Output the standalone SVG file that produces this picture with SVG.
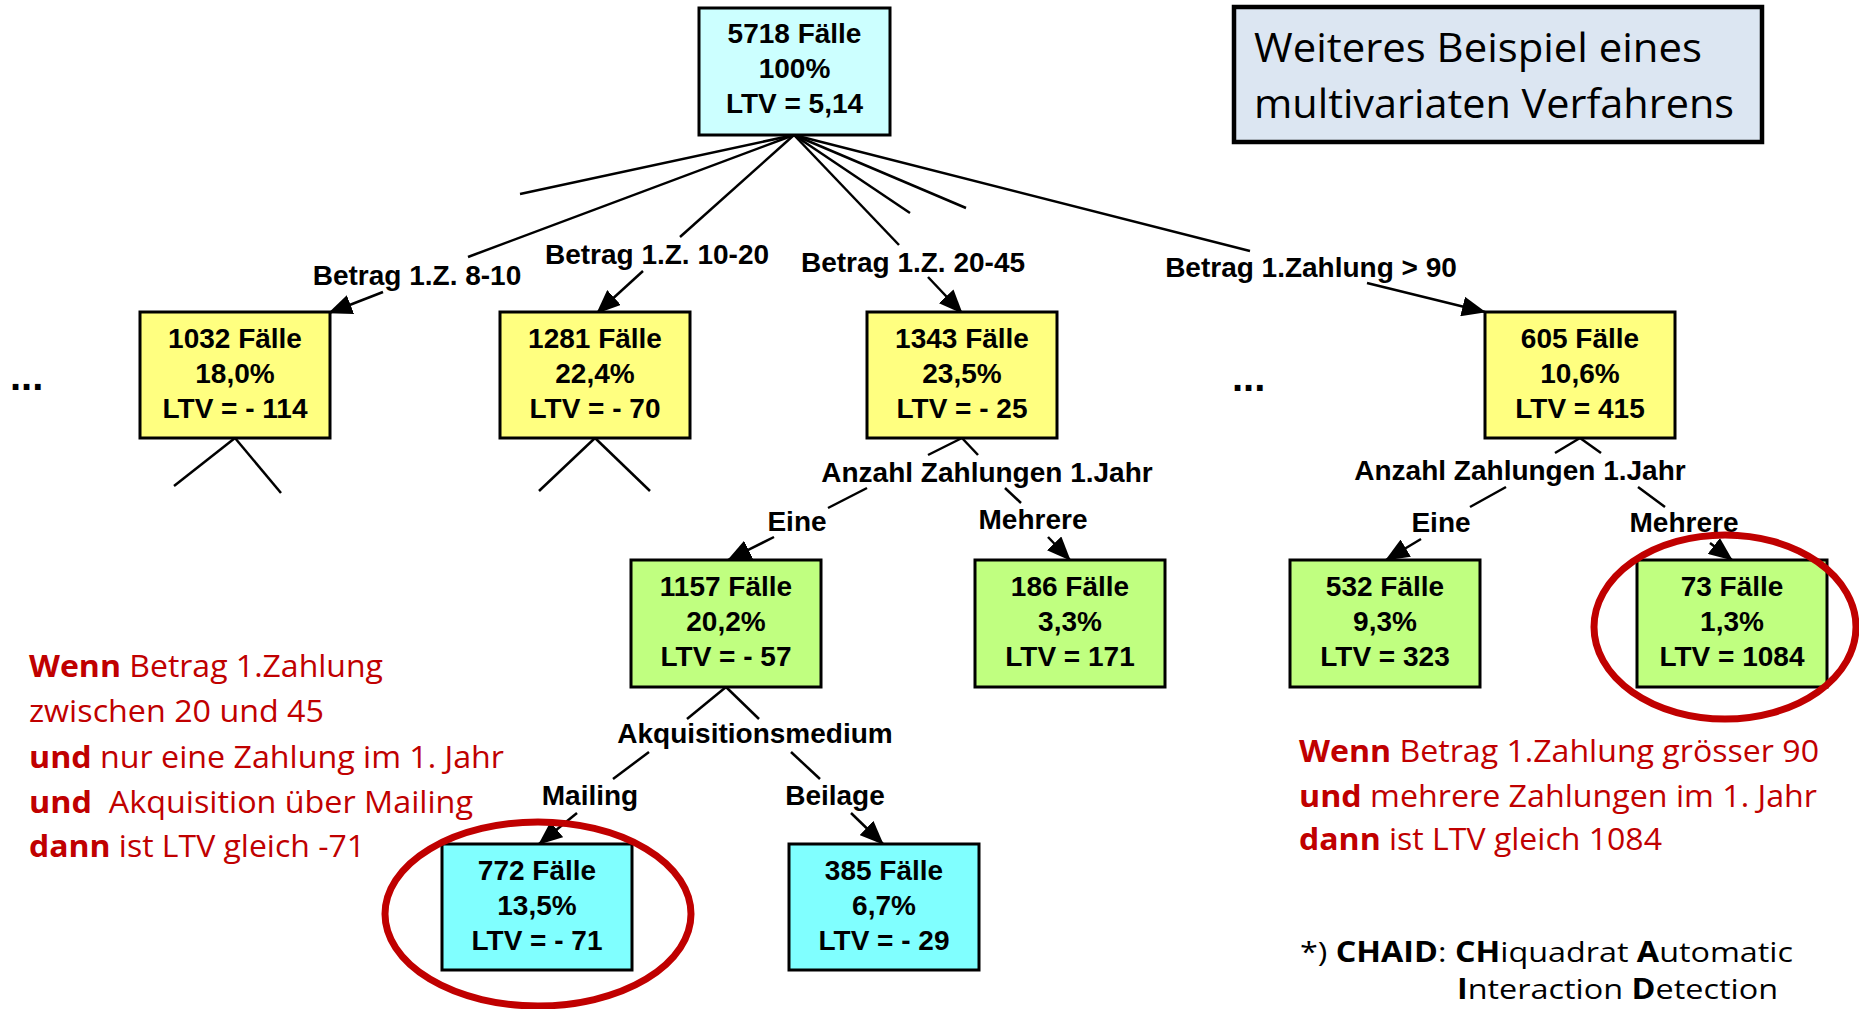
<svg xmlns="http://www.w3.org/2000/svg" width="1859" height="1009" viewBox="0 0 1859 1009">
<defs>
<style>
.box{stroke:#000;stroke-width:3}
.nt{font-family:"Liberation Sans",Arial,sans-serif;font-weight:bold;font-size:28px;text-anchor:middle;fill:#000}
.lbl{font-family:"Liberation Sans",Arial,sans-serif;font-weight:bold;font-size:28px;text-anchor:middle;fill:#000}
.dots{font-family:"Liberation Sans",Arial,sans-serif;font-weight:bold;font-size:40px;fill:#000}
.ln{stroke:#000;stroke-width:2.5;fill:none}
.ar{stroke:#000;stroke-width:2.5;fill:none;marker-end:url(#ah)}
.red{font-family:"Open Sans","Liberation Sans",sans-serif;font-size:31px;fill:#c00000}
.blk{font-family:"Open Sans","Liberation Sans",sans-serif;font-size:28px;fill:#000}
.b{font-weight:bold}
.ring{fill:none;stroke:#c00000;stroke-width:7}
</style>
<marker id="ah" markerUnits="userSpaceOnUse" markerWidth="24" markerHeight="20" refX="23" refY="10" orient="auto">
<path d="M0,0 L24,10 L0,20 z" fill="#000"/>
</marker>
</defs>
<rect width="1859" height="1009" fill="#fff"/>

<g id="title">
<rect x="1234" y="7" width="528" height="135" fill="#dce6f2" stroke="#000" stroke-width="4.5"/>
<text x="1254" y="62" font-family="'Open Sans','Liberation Sans',sans-serif" font-size="41" fill="#000" textLength="448" lengthAdjust="spacingAndGlyphs">Weiteres Beispiel eines</text>
<text x="1254" y="118" font-family="'Open Sans','Liberation Sans',sans-serif" font-size="41" fill="#000" textLength="480" lengthAdjust="spacingAndGlyphs">multivariaten Verfahrens</text>
</g>

<g id="connectors">
<line class="ln" x1="794" y1="135" x2="520" y2="194"/>
<line class="ln" x1="794" y1="135" x2="468" y2="257"/>
<line class="ln" x1="794" y1="135" x2="680" y2="237"/>
<line class="ln" x1="794" y1="135" x2="899" y2="245"/>
<line class="ln" x1="794" y1="135" x2="910" y2="213"/>
<line class="ln" x1="794" y1="135" x2="966" y2="208"/>
<line class="ln" x1="794" y1="135" x2="1250" y2="251"/>
<line class="ar" x1="383" y1="292" x2="329" y2="313"/>
<line class="ar" x1="643" y1="271" x2="597" y2="313"/>
<line class="ar" x1="928" y1="277" x2="962" y2="313"/>
<line class="ar" x1="1367" y1="283" x2="1485" y2="312"/>
<line class="ln" x1="235" y1="438" x2="174" y2="486"/>
<line class="ln" x1="235" y1="438" x2="281" y2="493"/>
<line class="ln" x1="595" y1="438" x2="539" y2="491"/>
<line class="ln" x1="595" y1="438" x2="650" y2="491"/>
<line class="ln" x1="962" y1="438" x2="928" y2="455"/>
<line class="ln" x1="962" y1="438" x2="978" y2="455"/>
<line class="ln" x1="867" y1="488" x2="828" y2="508"/>
<line class="ln" x1="1005" y1="488" x2="1021" y2="503"/>
<line class="ar" x1="774" y1="537" x2="728" y2="560"/>
<line class="ar" x1="1048" y1="537" x2="1070" y2="560"/>
<line class="ln" x1="1580" y1="438" x2="1555" y2="453"/>
<line class="ln" x1="1580" y1="438" x2="1601" y2="453"/>
<line class="ln" x1="1506" y1="487" x2="1470" y2="507"/>
<line class="ln" x1="1638" y1="487" x2="1665" y2="507"/>
<line class="ar" x1="1421" y1="539" x2="1386" y2="560"/>
<line class="ar" x1="1710" y1="543" x2="1732" y2="560"/>
<line class="ln" x1="726" y1="687" x2="687" y2="719"/>
<line class="ln" x1="726" y1="687" x2="759" y2="719"/>
<line class="ln" x1="649" y1="752" x2="613" y2="779"/>
<line class="ln" x1="791" y1="752" x2="820" y2="779"/>
<line class="ar" x1="577" y1="813" x2="539" y2="844"/>
<line class="ar" x1="851" y1="813" x2="883" y2="844"/>
<text class="lbl" x="417" y="285">Betrag 1.Z. 8-10</text>
<text class="lbl" x="657" y="264">Betrag 1.Z. 10-20</text>
<text class="lbl" x="913" y="272">Betrag 1.Z. 20-45</text>
<text class="lbl" x="1311" y="277">Betrag 1.Zahlung &gt; 90</text>
<text class="lbl" x="987" y="482">Anzahl Zahlungen 1.Jahr</text>
<text class="lbl" x="797" y="531">Eine</text>
<text class="lbl" x="1033" y="529">Mehrere</text>
<text class="lbl" x="1520" y="480">Anzahl Zahlungen 1.Jahr</text>
<text class="lbl" x="1441" y="532">Eine</text>
<text class="lbl" x="1684" y="532">Mehrere</text>
<text class="lbl" x="755" y="743">Akquisitionsmedium</text>
<text class="lbl" x="590" y="805">Mailing</text>
<text class="lbl" x="835" y="805">Beilage</text>
</g>

<text class="dots" x="10" y="390">...</text>
<text class="dots" x="1232" y="391">...</text>

<g id="n5718">
<rect class="box" x="699" y="8" width="191" height="127" fill="#ccffff"/>
<text class="nt" x="794.5" y="43">5718 Fälle</text>
<text class="nt" x="794.5" y="78">100%</text>
<text class="nt" x="794.5" y="113">LTV = 5,14</text>
</g>
<g id="n1032">
<rect class="box" x="140" y="312" width="190" height="126" fill="#ffff80"/>
<text class="nt" x="235" y="348">1032 Fälle</text>
<text class="nt" x="235" y="383">18,0%</text>
<text class="nt" x="235" y="418">LTV = - 114</text>
</g>
<g id="n1281">
<rect class="box" x="500" y="312" width="190" height="126" fill="#ffff80"/>
<text class="nt" x="595" y="348">1281 Fälle</text>
<text class="nt" x="595" y="383">22,4%</text>
<text class="nt" x="595" y="418">LTV = - 70</text>
</g>
<g id="n1343">
<rect class="box" x="867" y="312" width="190" height="126" fill="#ffff80"/>
<text class="nt" x="962" y="348">1343 Fälle</text>
<text class="nt" x="962" y="383">23,5%</text>
<text class="nt" x="962" y="418">LTV = - 25</text>
</g>
<g id="n605">
<rect class="box" x="1485" y="312" width="190" height="126" fill="#ffff80"/>
<text class="nt" x="1580" y="348">605 Fälle</text>
<text class="nt" x="1580" y="383">10,6%</text>
<text class="nt" x="1580" y="418">LTV = 415</text>
</g>
<g id="n1157">
<rect class="box" x="631" y="560" width="190" height="127" fill="#c0ff80"/>
<text class="nt" x="726" y="596">1157 Fälle</text>
<text class="nt" x="726" y="631">20,2%</text>
<text class="nt" x="726" y="666">LTV = - 57</text>
</g>
<g id="n186">
<rect class="box" x="975" y="560" width="190" height="127" fill="#c0ff80"/>
<text class="nt" x="1070" y="596">186 Fälle</text>
<text class="nt" x="1070" y="631">3,3%</text>
<text class="nt" x="1070" y="666">LTV = 171</text>
</g>
<g id="n532">
<rect class="box" x="1290" y="560" width="190" height="127" fill="#c0ff80"/>
<text class="nt" x="1385" y="596">532 Fälle</text>
<text class="nt" x="1385" y="631">9,3%</text>
<text class="nt" x="1385" y="666">LTV = 323</text>
</g>
<g id="n73">
<rect class="box" x="1637" y="560" width="190" height="127" fill="#c0ff80"/>
<text class="nt" x="1732" y="596">73 Fälle</text>
<text class="nt" x="1732" y="631">1,3%</text>
<text class="nt" x="1732" y="666">LTV = 1084</text>
</g>
<g id="n772">
<rect class="box" x="442" y="844" width="190" height="126" fill="#80ffff"/>
<text class="nt" x="537" y="880">772 Fälle</text>
<text class="nt" x="537" y="915">13,5%</text>
<text class="nt" x="537" y="950">LTV = - 71</text>
</g>
<g id="n385">
<rect class="box" x="789" y="844" width="190" height="126" fill="#80ffff"/>
<text class="nt" x="884" y="880">385 Fälle</text>
<text class="nt" x="884" y="915">6,7%</text>
<text class="nt" x="884" y="950">LTV = - 29</text>
</g>

<g id="highlights">
<ellipse class="ring" cx="538" cy="914" rx="153" ry="92"/>
<ellipse class="ring" cx="1725" cy="627" rx="131" ry="92"/>
</g>

<g id="rule-left">
<text class="red" x="29" y="677" textLength="354" lengthAdjust="spacingAndGlyphs"><tspan class="b">Wenn</tspan> Betrag 1.Zahlung</text>
<text class="red" x="29" y="722" textLength="295" lengthAdjust="spacingAndGlyphs">zwischen 20 und 45</text>
<text class="red" x="29" y="768" textLength="475" lengthAdjust="spacingAndGlyphs"><tspan class="b">und</tspan> nur eine Zahlung im 1. Jahr</text>
<text class="red" x="29" y="813" textLength="444" lengthAdjust="spacingAndGlyphs" xml:space="preserve"><tspan class="b">und</tspan>  Akquisition über Mailing</text>
<text class="red" x="29" y="857" textLength="336" lengthAdjust="spacingAndGlyphs"><tspan class="b">dann</tspan> ist LTV gleich -71</text>
</g>

<g id="rule-right">
<text class="red" x="1299" y="762" textLength="520" lengthAdjust="spacingAndGlyphs"><tspan class="b">Wenn</tspan> Betrag 1.Zahlung grösser 90</text>
<text class="red" x="1299" y="807" textLength="518" lengthAdjust="spacingAndGlyphs"><tspan class="b">und</tspan> mehrere Zahlungen im 1. Jahr</text>
<text class="red" x="1299" y="850" textLength="363" lengthAdjust="spacingAndGlyphs"><tspan class="b">dann</tspan> ist LTV gleich 1084</text>
</g>

<g id="footnote">
<text class="blk" x="1300" y="962" textLength="493" lengthAdjust="spacingAndGlyphs">*) <tspan class="b">CHAID</tspan>: <tspan class="b">CH</tspan>iquadrat <tspan class="b">A</tspan>utomatic</text>
<text class="blk" x="1457" y="999" textLength="321" lengthAdjust="spacingAndGlyphs"><tspan class="b">I</tspan>nteraction <tspan class="b">D</tspan>etection</text>
</g>
</svg>
